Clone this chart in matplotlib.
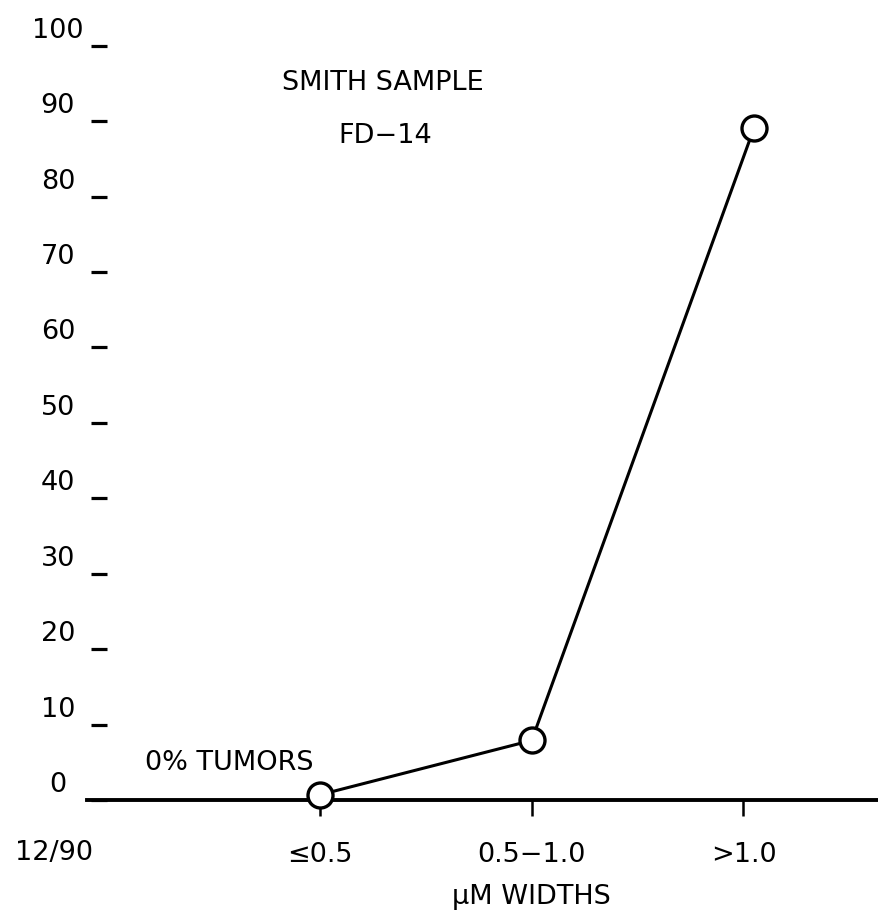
import matplotlib.pyplot as plt
from matplotlib.transforms import ScaledTranslation

# width classes on the x axis
categories = ["≤0.5", "0.5−1.0", ">1.0"]
cat_pos = [0, 1, 2]
# measured points (x slightly off the category for the last one, as drawn)
point_x = [0.0, 1.0, 2.05]
tumor_pct = [0.7, 7.9, 89.1]
y_ticks = [0, 10, 20, 30, 40, 50, 60, 70, 80, 90, 100]

plt.rcParams['font.family'] = ['DejaVu Sans']
fs = 19.5

fig = plt.figure(figsize=(8.79, 9.14), dpi=100)
ax = fig.add_axes([0.099, 0.1247, 0.901, 0.8253])

ax.plot(point_x, tumor_pct, color='black', lw=2.2, marker='o', ms=18,
        mfc='white', mec='black', mew=2.4, zorder=5, clip_on=False)

ax.set_xlim(-1.10, 2.64)
ax.set_ylim(0, 100)

for s in ['top', 'right', 'left']:
    ax.spines[s].set_visible(False)
ax.spines['bottom'].set_linewidth(2.8)
ax.spines['left'].set_position(('outward', -3))

# y ticks: short dashes with labels sitting above-left
ax.set_yticks(y_ticks)
ax.set_yticklabels([str(v) for v in y_ticks], fontsize=fs)
ax.tick_params(axis='y', direction='in', length=11.5, width=2.3, pad=24)
for lab in ax.get_yticklabels():
    lab.set_horizontalalignment('center')
    lab.set_transform(lab.get_transform() + ScaledTranslation(0, 0.18, fig.dpi_scale_trans))

# x ticks
ax.set_xticks(cat_pos)
ax.set_xticklabels(categories, fontsize=fs)
ax.tick_params(axis='x', direction='out', length=11.5, width=1.8, pad=19)

ax.text(1.0, -0.1286, "µM WIDTHS", transform=ax.get_xaxis_transform(),
        ha='center', va='center', fontsize=fs)
fig.text(54 / 879, 1 - 853 / 914, "12/90", ha='center', va='center', fontsize=fs)
ax.text(-0.43, 4.9, "0% TUMORS", ha='center', va='center', fontsize=fs)
ax.text(0.297, 95.1, "SMITH SAMPLE", ha='center', va='center', fontsize=fs)
ax.text(0.307, 88.0, "FD−14", ha='center', va='center', fontsize=fs)

fig.savefig("out.png", dpi=100)
